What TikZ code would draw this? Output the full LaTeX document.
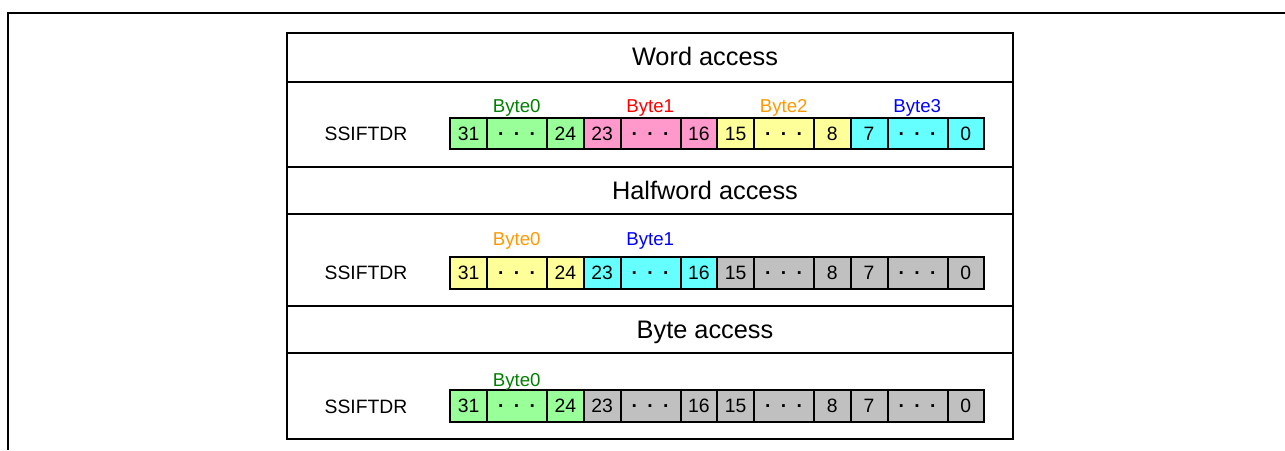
\documentclass[tikz,border=0pt]{standalone}
\usepackage{fontspec}
\setmainfont{Liberation Sans}
\definecolor{cellgreen}{HTML}{99FF99}
\definecolor{cellpink}{HTML}{FF99CC}
\definecolor{cellyellow}{HTML}{FFFF99}
\definecolor{cellcyan}{HTML}{66FFFF}
\definecolor{cellgray}{HTML}{C0C0C0}
\definecolor{labelgreen}{HTML}{008000}
\definecolor{labelred}{HTML}{FF0000}
\definecolor{labelorange}{HTML}{FF9900}
\definecolor{labelblue}{HTML}{0000FF}
\begin{document}
\begin{tikzpicture}[x=0.75pt,y=-0.75pt]
    % Satuan = piksel gambar acuan, sumbu y dibalik (y=-0.75pt).
    \tikzset{
      sel/.style={draw,line width=1.5pt,inner sep=0pt,outer sep=0pt,
        minimum height=23.6pt,text height=10.4pt,text depth=0pt,
        font=\fontsize{14.5}{16}\selectfont},
      judul/.style={anchor=base,font=\fontsize{19}{22}\selectfont},
      namabyte/.style={anchor=base,font=\fontsize{14}{16}\selectfont},
      register/.style={anchor=base,font=\fontsize{14.5}{16}\selectfont}}
    \useasboundingbox (0,0) rectangle (1285,450);
    % Bingkai luar: hanya sisi atas dan kiri
    \draw[line width=2pt] (8,450) -- (8,13) -- (1285,13);
    % Tabel dan garis pemisah baris
    \draw[line width=0.8pt] (287,33) rectangle (1013,439);
    \foreach \y in {82,167,214,306,353}
      \draw[line width=0.8pt] (287,\y) -- (1013,\y);
    \node[judul] (w-judul) at (705,65.7) {Word access};
    \node[judul] (h-judul) at (705,199.3) {Halfword access};
    \node[judul] (b-judul) at (705,338.3) {Byte access};
    % Register: tiga akses, masing-masing empat byte (31..0).
    % Tiap byte 133.5 px: sel bit atas 37, titik 60, sel bit bawah 36.5.
    \foreach \r/\yc/\wnA/\wnB/\wnC/\wnD in {
        w/133.5/cellgreen/cellpink/cellyellow/cellcyan,
        h/272.8/cellyellow/cellcyan/cellgray/cellgray,
        b/405.8/cellgreen/cellgray/cellgray/cellgray} {
      \foreach \k/\warna in {0/\wnA,1/\wnB,2/\wnC,3/\wnD} {
        \pgfmathsetmacro\xo{450+\k*133.5}
        \pgfmathtruncatemacro\bitatas{31-\k*8}
        \pgfmathtruncatemacro\bitbawah{24-\k*8}
        \node[sel,fill=\warna,minimum width=27.75pt] (\r-\k-atas) at (\xo+18.5,\yc) {\bitatas};
        \node[sel,fill=\warna,minimum width=45pt] (\r-\k-titik) at (\xo+67,\yc)
          {\bfseries·\hspace{7pt}·\hspace{7pt}·};
        \node[sel,fill=\warna,minimum width=27.375pt] (\r-\k-bawah) at (\xo+115.25,\yc) {\bitbawah};
      }
    }
    \node[register] (w-reg) at (366,140) {SSIFTDR};
    \node[register] (h-reg) at (366,279.3) {SSIFTDR};
    \node[register] (b-reg) at (366,413.3) {SSIFTDR};
    % Nama byte di atas tiap register
    \node[namabyte,text=labelgreen] (w-byte0) at (516.75,112.3) {Byte0};
    \node[namabyte,text=labelred] (w-byte1) at (650.25,112.3) {Byte1};
    \node[namabyte,text=labelorange] (w-byte2) at (783.75,112.3) {Byte2};
    \node[namabyte,text=labelblue] (w-byte3) at (917.25,112.3) {Byte3};
    \node[namabyte,text=labelorange] (h-byte0) at (516.75,245.7) {Byte0};
    \node[namabyte,text=labelblue] (h-byte1) at (650.25,245.7) {Byte1};
    \node[namabyte,text=labelgreen] (b-byte0) at (516.75,386) {Byte0};
  \end{tikzpicture}
\end{document}
